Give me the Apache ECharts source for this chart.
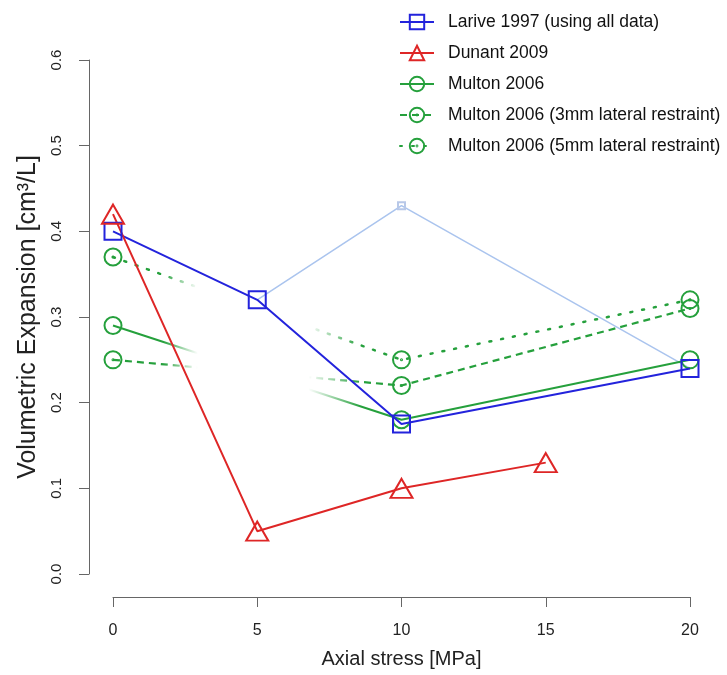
<!DOCTYPE html>
<html>
<head>
<meta charset="utf-8">
<script src="https://cdn.jsdelivr.net/npm/echarts@6/dist/echarts.min.js"></script>
<style>html,body{margin:0;padding:0;background:#fff}#c{width:727px;height:675px}</style>
</head>
<body>
<div id="c"></div>
<script>
// ---- data ----
const xTicks = [0, 5, 10, 15, 20];
const yTicks = [0.0, 0.1, 0.2, 0.3, 0.4, 0.5, 0.6];
const lariveX = [0, 5, 10, 20];
const lariveY = [0.40, 0.32, 0.175, 0.24];
const lariveAltX = [5, 10, 20];
const lariveAltY = [0.32, 0.43, 0.24];
const dunantX = [0, 5, 10, 15];
const dunantY = [0.42, 0.05, 0.10, 0.13];
const multonX = [0, 10, 20];
const multonY = [0.29, 0.18, 0.25];
const multon3X = [0, 10, 20];
const multon3Y = [0.25, 0.22, 0.31];
const multon5X = [0, 10, 20];
const multon5Y = [0.37, 0.25, 0.32];
const names = ['Larive 1997 (using all data)', 'Dunant 2009', 'Multon 2006',
  'Multon 2006 (3mm lateral restraint)', 'Multon 2006 (5mm lateral restraint)'];

const BLUE = '#2323dc', RED = '#de2626', GREEN = '#25a03c', LBLUE = '#aac4ee';
const FONT = '"Liberation Sans", Arial, sans-serif';
const pairs = (xs, ys) => xs.map((x, i) => [x, ys[i]]);
const dotCircle = 'path://M0,-10A10,10 0 1,1 0,10A10,10 0 1,1 0,-10ZM0,-0.6A0.6,0.6 0 1,1 0,0.6A0.6,0.6 0 1,1 0,-0.6Z';
const fade = {
  type: 'linear', x: 0, y: 0, x2: 1, y2: 0,
  colorStops: [
    {offset: 0, color: 'rgba(37,160,60,1)'},
    {offset: 0.09, color: 'rgba(37,160,60,1)'},
    {offset: 0.15, color: 'rgba(37,160,60,0)'},
    {offset: 0.34, color: 'rgba(37,160,60,0)'},
    {offset: 0.43, color: 'rgba(37,160,60,1)'},
    {offset: 1, color: 'rgba(37,160,60,1)'}
  ]
};
const openStyle = c => ({color: 'rgba(255,255,255,0)', borderColor: c, borderWidth: 2});

const chart = echarts.init(document.getElementById('c'));
chart.setOption({
  animation: false,
  backgroundColor: '#fff',
  grid: {left: 113, right: 37, top: 60, bottom: 101},
  legend: {
    orient: 'vertical', left: 394, top: 8,
    itemWidth: 34, itemHeight: 18, itemGap: 13,
    textStyle: {fontFamily: FONT, fontSize: 17.5, color: '#111', lineHeight: 18, padding: [0, 0, 0, 9]},
    data: [
      {name: names[0]},
      {name: names[1]},
      {name: names[2], lineStyle: {color: GREEN}},
      {name: names[3], lineStyle: {color: GREEN}},
      {name: names[4], lineStyle: {color: GREEN}}
    ]
  },
  xAxis: {
    type: 'value', min: 0, max: 20, interval: 5, offset: 23,
    splitLine: {show: false},
    axisLine: {onZero: false, lineStyle: {color: '#666', width: 1}},
    axisTick: {length: 10, lineStyle: {color: '#666'}},
    axisLabel: {fontFamily: FONT, fontSize: 16, color: '#222', margin: 26,
      formatter: v => xTicks.includes(v) ? String(v) : ''},
    name: 'Axial stress [MPa]', nameLocation: 'middle', nameGap: 52,
    nameTextStyle: {fontFamily: FONT, fontSize: 20, color: '#222'}
  },
  yAxis: {
    type: 'value', min: 0, max: 0.6, interval: 0.1, offset: 24,
    splitLine: {show: false},
    axisLine: {show: true, onZero: false, lineStyle: {color: '#666', width: 1}},
    axisTick: {show: true, length: 10, lineStyle: {color: '#666'}},
    axisLabel: {fontFamily: FONT, fontSize: 15, color: '#222', margin: 25, rotate: 90,
      formatter: v => yTicks[Math.round(v * 10)].toFixed(1)},
    name: 'Volumetric Expansion [cm³/L]', nameLocation: 'middle', nameGap: 46,
    nameTextStyle: {fontFamily: FONT, fontSize: 25, color: '#222'}
  },
  series: [
    {
      name: 'alt', type: 'line', clip: false, z: 1,
      data: pairs(lariveAltX, lariveAltY).map((p, i) => ({value: p, symbol: i === 1 ? 'rect' : 'none'})),
      symbolSize: 7, showSymbol: true,
      lineStyle: {color: LBLUE, width: 1.5},
      itemStyle: openStyle('#b8c8e8')
    },
    {
      name: names[0], type: 'line', clip: false, z: 3,
      data: pairs(lariveX, lariveY), symbol: 'rect', symbolSize: 17,
      lineStyle: {color: BLUE, width: 2}, itemStyle: openStyle(BLUE)
    },
    {
      name: names[1], type: 'line', clip: false, z: 3,
      data: pairs(dunantX, dunantY), symbol: 'triangle', symbolSize: [22, 19],
      lineStyle: {color: RED, width: 2}, itemStyle: openStyle(RED)
    },
    {
      name: names[2], type: 'line', clip: false, z: 2,
      data: pairs(multonX, multonY), symbol: 'circle', symbolSize: 17,
      lineStyle: {color: fade, width: 2}, itemStyle: openStyle(GREEN)
    },
    {
      name: names[3], type: 'line', clip: false, z: 2,
      data: pairs(multon3X, multon3Y), symbol: dotCircle, symbolSize: 17,
      lineStyle: {color: fade, width: 2.2, type: [7, 5]}, itemStyle: openStyle(GREEN)
    },
    {
      name: names[4], type: 'line', clip: false, z: 2,
      data: pairs(multon5X, multon5Y), symbol: dotCircle, symbolSize: 17,
      lineStyle: {color: fade, width: 2.5, type: [2, 10], cap: 'round'}, itemStyle: openStyle(GREEN)
    }
  ]
});
</script>
</body>
</html>
